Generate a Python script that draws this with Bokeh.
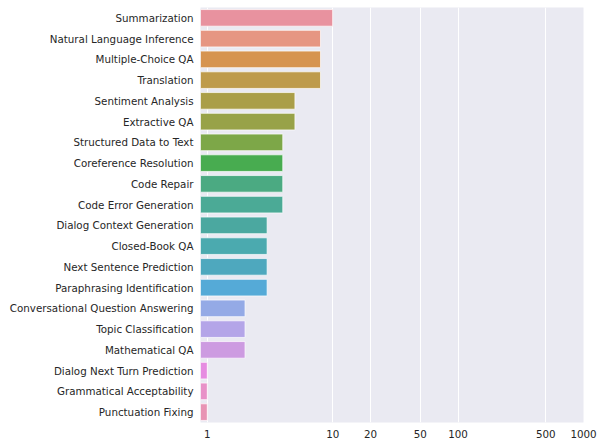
from bokeh.plotting import figure
from bokeh.models import FixedTicker, BasicTickFormatter, ColumnDataSource, Range1d, FactorRange
from bokeh.embed import file_html
from bokeh.resources import INLINE

tasks = [
    "Summarization", "Natural Language Inference", "Multiple-Choice QA", "Translation",
    "Sentiment Analysis", "Extractive QA", "Structured Data to Text", "Coreference Resolution",
    "Code Repair", "Code Error Generation", "Dialog Context Generation", "Closed-Book QA",
    "Next Sentence Prediction", "Paraphrasing Identification", "Conversational Question Answering",
    "Topic Classification", "Mathematical QA", "Dialog Next Turn Prediction",
    "Grammatical Acceptability", "Punctuation Fixing",
]
counts = [10, 8, 8, 8, 5, 5, 4, 4, 4, 4, 3, 3, 3, 3, 2, 2, 2, 1, 1, 1]
x_ticks = [1, 10, 20, 50, 100, 500, 1000]

colors = [
    "#E8929F", "#E69682", "#D69450", "#BE9B4B", "#AA9E48", "#98A248", "#7DA748",
    "#48AC50", "#4BAA82", "#4BAA96", "#4BA8A0", "#4BAAAF", "#4EA8BE", "#55AAD7",
    "#94AAE6", "#B4A5E8", "#CD9BE1", "#E68CE1", "#E891C8", "#E894B4",
]

src = ColumnDataSource(dict(task=tasks, count=counts, color=colors))

x_start = 0.883
p = figure(
    y_range=FactorRange(*reversed(tasks)),
    x_range=Range1d(x_start, 1000),
    x_axis_type="log",
    frame_width=383, frame_height=415,
    min_border_left=200, min_border_top=7, min_border_right=14, min_border_bottom=20,
    output_backend="svg", toolbar_location=None,
    background_fill_color="#EAEAF2", border_fill_color="white",
    outline_line_color=None,
)

p.hbar(y="task", right="count", left=x_start, height=0.8, source=src,
       fill_color="color", line_color="white", line_alpha=0.7, line_width=1)

p.xaxis.ticker = FixedTicker(ticks=x_ticks, minor_ticks=[])
p.xaxis.formatter = BasicTickFormatter(use_scientific=False)
for ax in (p.xaxis, p.yaxis):
    ax.axis_line_color = None
    ax.major_tick_line_color = None
    ax.minor_tick_line_color = None
    ax.major_tick_out = 0
    ax.minor_tick_out = 0
    ax.major_label_text_font = "DejaVu Sans"
    ax.major_label_text_font_size = "10.3px"
    ax.major_label_text_color = "#262626"
p.xaxis.major_label_standoff = 7
p.yaxis.major_label_standoff = 7

p.xgrid.grid_line_color = "white"
p.xgrid.grid_line_width = 1
p.ygrid.grid_line_color = None

open("out.html", "w").write(file_html(p, INLINE))
